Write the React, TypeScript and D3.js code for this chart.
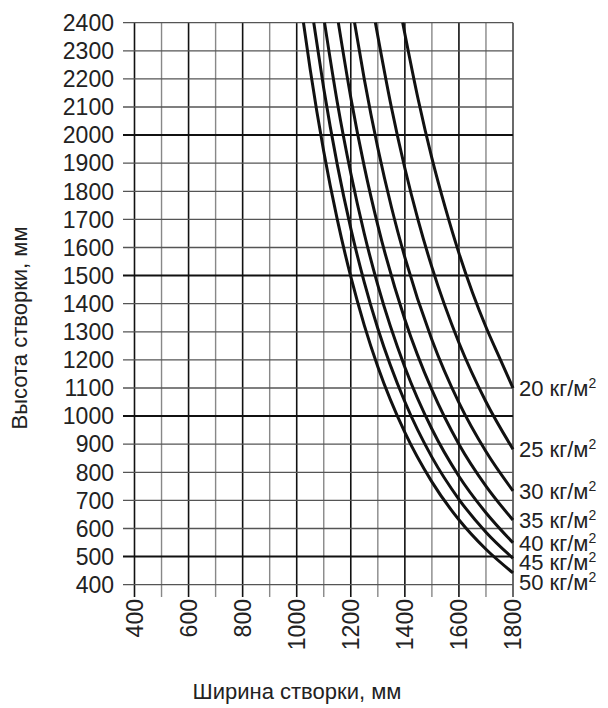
import React from "react";
import * as d3 from "d3";

const xTicks = [400, 600, 800, 1000, 1200, 1400, 1600, 1800];
const yTicks = [400, 500, 600, 700, 800, 900, 1000, 1100, 1200, 1300, 1400, 1500, 1600, 1700, 1800, 1900, 2000, 2100, 2200, 2300, 2400];
const loads = [20, 25, 30, 35, 40, 45, 50];

// [width, height] points
const curve20: [number, number][] = [[1392, 2400], [1450, 2124], [1500, 1918], [1550, 1740], [1600, 1580], [1650, 1440], [1700, 1317], [1750, 1208], [1800, 1100]];
const curve25: [number, number][] = [[1291, 2400], [1350, 2100], [1400, 1882], [1450, 1694], [1500, 1530], [1600, 1261], [1700, 1051], [1800, 882]];
const curve30: [number, number][] = [[1214, 2400], [1250, 2199], [1300, 1954], [1350, 1745], [1400, 1565], [1500, 1272], [1600, 1048], [1700, 874], [1800, 734]];
const curve35: [number, number][] = [[1154, 2400], [1200, 2134], [1250, 1888], [1300, 1679], [1400, 1344], [1500, 1093], [1600, 900], [1700, 751], [1800, 630]];
const curve40: [number, number][] = [[1103, 2400], [1150, 2117], [1200, 1864], [1250, 1649], [1300, 1466], [1400, 1174], [1500, 954], [1600, 786], [1700, 656], [1800, 549]];
const curve45: [number, number][] = [[1063, 2400], [1100, 2166], [1150, 1895], [1200, 1668], [1250, 1476], [1300, 1312], [1400, 1051], [1500, 854], [1600, 704], [1700, 587], [1800, 494]];
const curve50: [number, number][] = [[1025, 2400], [1050, 2233], [1100, 1942], [1150, 1700], [1200, 1496], [1250, 1323], [1300, 1176], [1400, 942], [1500, 766], [1600, 631], [1700, 526], [1800, 442]];
const curves = [curve20, curve25, curve30, curve35, curve40, curve45, curve50];

const W = 608, H = 708;
const FONT = "'Liberation Sans', Arial, sans-serif";

export default function App() {
  const x = d3.scaleLinear().domain([400, 1800]).range([134.5, 513]);
  const y = d3.scaleLinear().domain([400, 2400]).range([584.7, 22.7]);
  const line = d3.line<[number, number]>().x(d => x(d[0])).y(d => y(d[1])).curve(d3.curveMonotoneX);

  const vLines = d3.range(400, 1801, 100);
  const hLines = d3.range(400, 2401, 100);

  // label positions with simple collision avoidance
  const labelY: number[] = [];
  curves.forEach((c, i) => {
    let yy = y(c[c.length - 1][1]);
    if (i > 0 && yy < labelY[i - 1] + 19.5) yy = labelY[i - 1] + 19.5;
    labelY.push(yy);
  });

  return (
    <svg width={W} height={H} style={{ position: "absolute", left: 0, top: 0, background: "#fff" }} fontFamily={FONT}>
      <rect width={W} height={H} fill="#fff" />
      {vLines.map(v => {
        const major = v % 200 === 0;
        return (
          <line key={"v" + v} x1={x(v)} x2={x(v)} y1={y(2400)} y2={597}
            stroke={v === 1800 ? "#444" : major ? "#111" : "#888"} strokeWidth={major ? 1.6 : 1.4} />
        );
      })}
      {hLines.map(h => {
        const major = h % 500 === 0;
        return (
          <line key={"h" + h} x1={123} x2={x(1800)} y1={y(h)} y2={y(h)}
            stroke={major ? "#111" : "#555"} strokeWidth={major ? 2 : 1.3} />
        );
      })}
      {curves.map((c, i) => (
        <path key={"c" + i} d={line(c) || ""} fill="none" stroke="#111" strokeWidth={3} />
      ))}
      {yTicks.map(t => (
        <text key={"yt" + t} x={114} y={y(t)} dy="0.36em" textAnchor="end" fontSize={23} fill="#222">{t}</text>
      ))}
      {xTicks.map(t => (
        <text key={"xt" + t} transform={`translate(${x(t)},${599}) rotate(-90)`} dy="0.36em" textAnchor="end" fontSize={23} fill="#222">{t}</text>
      ))}
      {loads.map((l, i) => (
        <text key={"l" + l} x={519} y={labelY[i]} dy="0.36em" fontSize={22} fill="#222">
          {l} кг/м<tspan fontSize={14} dy="-8">2</tspan>
        </text>
      ))}
      <text x={297} y={699} textAnchor="middle" fontSize={22} fill="#222">Ширина створки, мм</text>
      <text transform={`translate(27,328) rotate(-90)`} textAnchor="middle" fontSize={22} fill="#222">Высота створки, мм</text>
    </svg>
  );
}
